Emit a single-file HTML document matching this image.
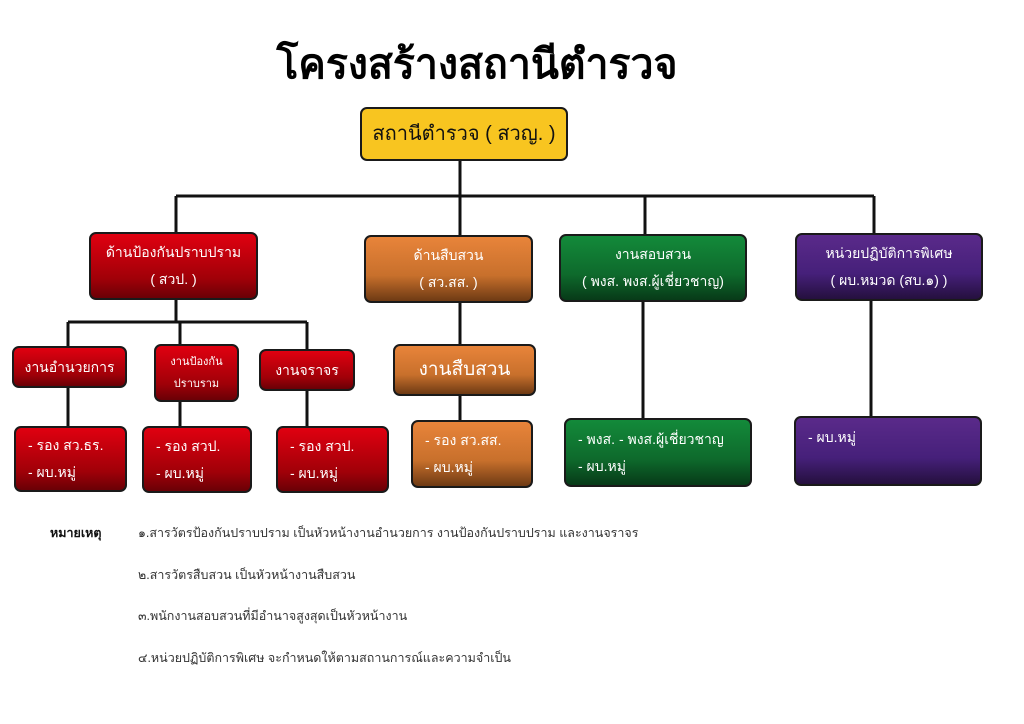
<!DOCTYPE html>
<html><head><meta charset="utf-8"><style>
body{margin:0;width:1024px;height:724px;background:#fff;position:relative;overflow:hidden;font-family:"Liberation Sans","Noto Sans CJK SC",sans-serif}
.b{position:absolute;box-sizing:border-box;border:2px solid #1a1a1a;border-radius:7px;color:#fff;font-size:14px;display:flex;flex-direction:column;justify-content:center;align-items:center;line-height:1.9;text-align:center}
.l{align-items:flex-start;padding-left:12px;text-align:left}
.r{background:linear-gradient(#e00010,#a00008 70%,#6a0006)}
.o{background:linear-gradient(#e8843a,#c8702c 60%,#6e3a14)}
.g{background:linear-gradient(#138a3a,#0e6a2c 60%,#073a18)}
.p{background:linear-gradient(#5a2a8a,#46207a 60%,#25103e)}
.t{position:absolute;font-size:12.5px;color:#333}
</style></head><body>
<svg width="1024" height="724" style="position:absolute;left:0;top:0" fill="none" stroke="#111" stroke-width="3">
<path d="M460 161V196M176 196H874M176 196V232M460 196V235M645 196V234M874 196V233"/>
<path d="M176 300V322M68 322H307M68 322V346M180 322V344M307 322V349"/>
<path d="M68 388V426M180 402V426M307 391V426"/>
<path d="M460 303V344M460 396V420M643 302V418M871 301V416"/>
</svg>
<div style="position:absolute;left:0;width:954px;top:32px;text-align:center;font-size:41px;font-weight:bold;color:#000">โครงสร้างสถานีตำรวจ</div>
<div class="b" style="left:360px;top:107px;width:208px;height:54px;background:#f8c520;color:#111;font-size:20px">สถานีตำรวจ ( สวญ. )</div>
<div class="b r" style="left:89px;top:232px;width:169px;height:68px">ด้านป้องกันปราบปราม<br>( สวป. )</div>
<div class="b o" style="left:364px;top:235px;width:169px;height:68px">ด้านสืบสวน<br>( สว.สส. )</div>
<div class="b g" style="left:559px;top:234px;width:188px;height:68px">งานสอบสวน<br>( พงส. พงส.ผู้เชี่ยวชาญ)</div>
<div class="b p" style="left:795px;top:233px;width:188px;height:68px">หน่วยปฏิบัติการพิเศษ<br>( ผบ.หมวด (สบ.๑) )</div>
<div class="b r" style="left:12px;top:346px;width:115px;height:42px">งานอำนวยการ</div>
<div class="b r" style="left:154px;top:344px;width:85px;height:58px;font-size:11px;line-height:2">งานป้องกัน<br>ปราบราม</div>
<div class="b r" style="left:259px;top:349px;width:96px;height:42px">งานจราจร</div>
<div class="b r l" style="left:14px;top:426px;width:113px;height:66px">- รอง สว.ธร.<br>- ผบ.หมู่</div>
<div class="b r l" style="left:142px;top:426px;width:110px;height:67px">- รอง สวป.<br>- ผบ.หมู่</div>
<div class="b r l" style="left:276px;top:426px;width:113px;height:67px">- รอง สวป.<br>- ผบ.หมู่</div>
<div class="b o" style="left:393px;top:344px;width:143px;height:52px;font-size:19px">งานสืบสวน</div>
<div class="b o l" style="left:411px;top:420px;width:122px;height:68px">- รอง สว.สส.<br>- ผบ.หมู่</div>
<div class="b g l" style="left:564px;top:418px;width:188px;height:69px;justify-content:flex-start;padding-top:6px">- พงส. - พงส.ผู้เชี่ยวชาญ<br>- ผบ.หมู่</div>
<div class="b p l" style="left:794px;top:416px;width:188px;height:70px;justify-content:flex-start;padding-top:6px">- ผบ.หมู่</div>
<div class="t" style="left:50px;top:523px;font-weight:bold;color:#111">หมายเหตุ</div>
<div class="t" style="left:138px;top:523px">๑.สารวัตรป้องกันปราบปราม  เป็นหัวหน้างานอำนวยการ  งานป้องกันปราบปราม  และงานจราจร</div>
<div class="t" style="left:138px;top:565px">๒.สารวัตรสืบสวน  เป็นหัวหน้างานสืบสวน</div>
<div class="t" style="left:138px;top:606px">๓.พนักงานสอบสวนที่มีอำนาจสูงสุดเป็นหัวหน้างาน</div>
<div class="t" style="left:138px;top:648px">๔.หน่วยปฏิบัติการพิเศษ จะกำหนดให้ตามสถานการณ์และความจำเป็น</div>
</body></html>
